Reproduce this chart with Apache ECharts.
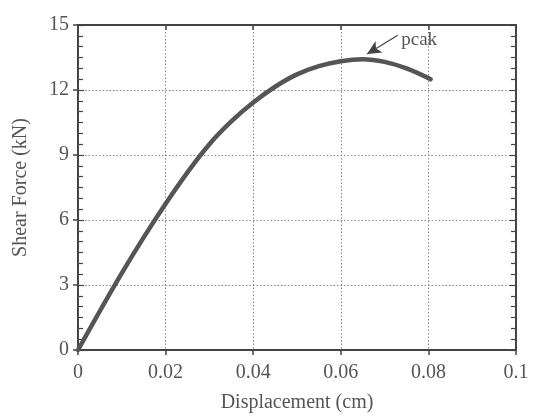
<!DOCTYPE html>
<html>
<head>
<meta charset="utf-8">
<script src="https://cdn.jsdelivr.net/npm/echarts@6/dist/echarts.min.js"></script>
<style>
  html, body { margin: 0; padding: 0; background: #fff; }
  #chart { width: 533px; height: 418px; }
</style>
</head>
<body>
<div id="chart"></div>
<script>
// displacement (cm) vs shear force (kN)
const displacement = [0, 0.005, 0.01, 0.015, 0.02, 0.025, 0.03, 0.035, 0.04, 0.045, 0.05, 0.055, 0.06, 0.065, 0.07, 0.075, 0.0805];
const shearForce   = [0, 1.8,   3.55, 5.2,   6.75, 8.2,   9.5,  10.55, 11.42, 12.15, 12.72, 13.1, 13.33, 13.42, 13.3, 13.0, 12.5];
const xTicks = [0, 0.02, 0.04, 0.06, 0.08, 0.1];
const yTicks = [0, 3, 6, 9, 12, 15];
const peakArrow = [[0.073, 14.53], [0.066, 13.66]];
const peakLabel = [0.0738, 14.3];

const serif = 'Liberation Serif';
const ink = '#444';
const textGray = '#555';

const chart = echarts.init(document.getElementById('chart'));

const xBase = {
  type: 'value',
  min: xTicks[0],
  max: xTicks[xTicks.length - 1],
  interval: 0.02,
  axisLine: { show: true, onZero: false, lineStyle: { color: ink, width: 2 } }
};
const yBase = {
  type: 'value',
  min: yTicks[0],
  max: yTicks[yTicks.length - 1],
  interval: 3,
  axisLine: { show: true, onZero: false, lineStyle: { color: ink, width: 2 } }
};

const option = {
  animation: false,
  backgroundColor: '#fff',
  grid: { left: 78, right: 17, top: 25, bottom: 67 },
  xAxis: [
    Object.assign({}, xBase, {
      position: 'bottom',
      name: 'Displacement (cm)',
      nameLocation: 'middle',
      nameGap: 43,
      nameTextStyle: { fontFamily: serif, fontSize: 20, color: textGray },
      axisLabel: {
        fontFamily: serif, fontSize: 20, color: textGray, margin: 13,
        formatter: v => String(+v.toFixed(2))
      },
      axisTick: { show: true, inside: false, length: 5, lineStyle: { color: ink, width: 1.5 } },
      splitLine: { show: true, lineStyle: { color: '#888', type: [1.5, 2], width: 1 } }
    }),
    Object.assign({}, xBase, {
      position: 'top',
      axisLabel: { show: false },
      axisTick: { show: true, inside: true, length: 5, lineStyle: { color: ink, width: 1.5 } },
      splitLine: { show: false }
    })
  ],
  yAxis: [
    Object.assign({}, yBase, {
      position: 'left',
      name: 'Shear Force (kN)',
      nameLocation: 'middle',
      nameGap: 47,
      nameTextStyle: { fontFamily: serif, fontSize: 20, color: textGray },
      axisLabel: { fontFamily: serif, fontSize: 20, color: textGray, margin: 9 },
      axisTick: { show: true, inside: false, length: 5, lineStyle: { color: ink, width: 1.5 } },
      splitLine: { show: true, lineStyle: { color: '#888', type: [1.5, 2], width: 1 } }
    }),
    Object.assign({}, yBase, {
      position: 'left',
      axisLabel: { show: false },
      axisTick: { show: true, inside: true, length: 6, lineStyle: { color: ink, width: 1.2 } },
      minorTick: { show: true, splitNumber: 6, length: 5, lineStyle: { color: ink, width: 1.2 } },
      splitLine: { show: false }
    }),
    Object.assign({}, yBase, {
      position: 'right',
      axisLabel: { show: false },
      axisTick: { show: true, inside: true, length: 6, lineStyle: { color: ink, width: 1.2 } },
      minorTick: { show: true, splitNumber: 6, length: 5, lineStyle: { color: ink, width: 1.2 } },
      splitLine: { show: false }
    })
  ],
  series: [
    {
      type: 'line',
      xAxisIndex: 0,
      yAxisIndex: 0,
      data: displacement.map((d, i) => [d, shearForce[i]]),
      smooth: 0.4,
      showSymbol: false,
      lineStyle: { color: '#555', width: 4.5, cap: 'round' },
      markLine: {
        silent: true,
        symbol: ['none', 'arrow'],
        symbolSize: [10, 14],
        label: { show: false },
        lineStyle: { color: '#444', width: 1.2, type: 'solid' },
        data: [[{ coord: peakArrow[0] }, { coord: peakArrow[1] }]]
      },
      markPoint: {
        silent: true,
        symbol: 'circle',
        symbolSize: 0,
        label: {
          show: true, position: 'right', distance: 0,
          formatter: 'pcak', fontFamily: serif, fontSize: 19, color: textGray
        },
        data: [{ coord: peakLabel }]
      }
    }
  ]
};

chart.setOption(option);
</script>
</body>
</html>
